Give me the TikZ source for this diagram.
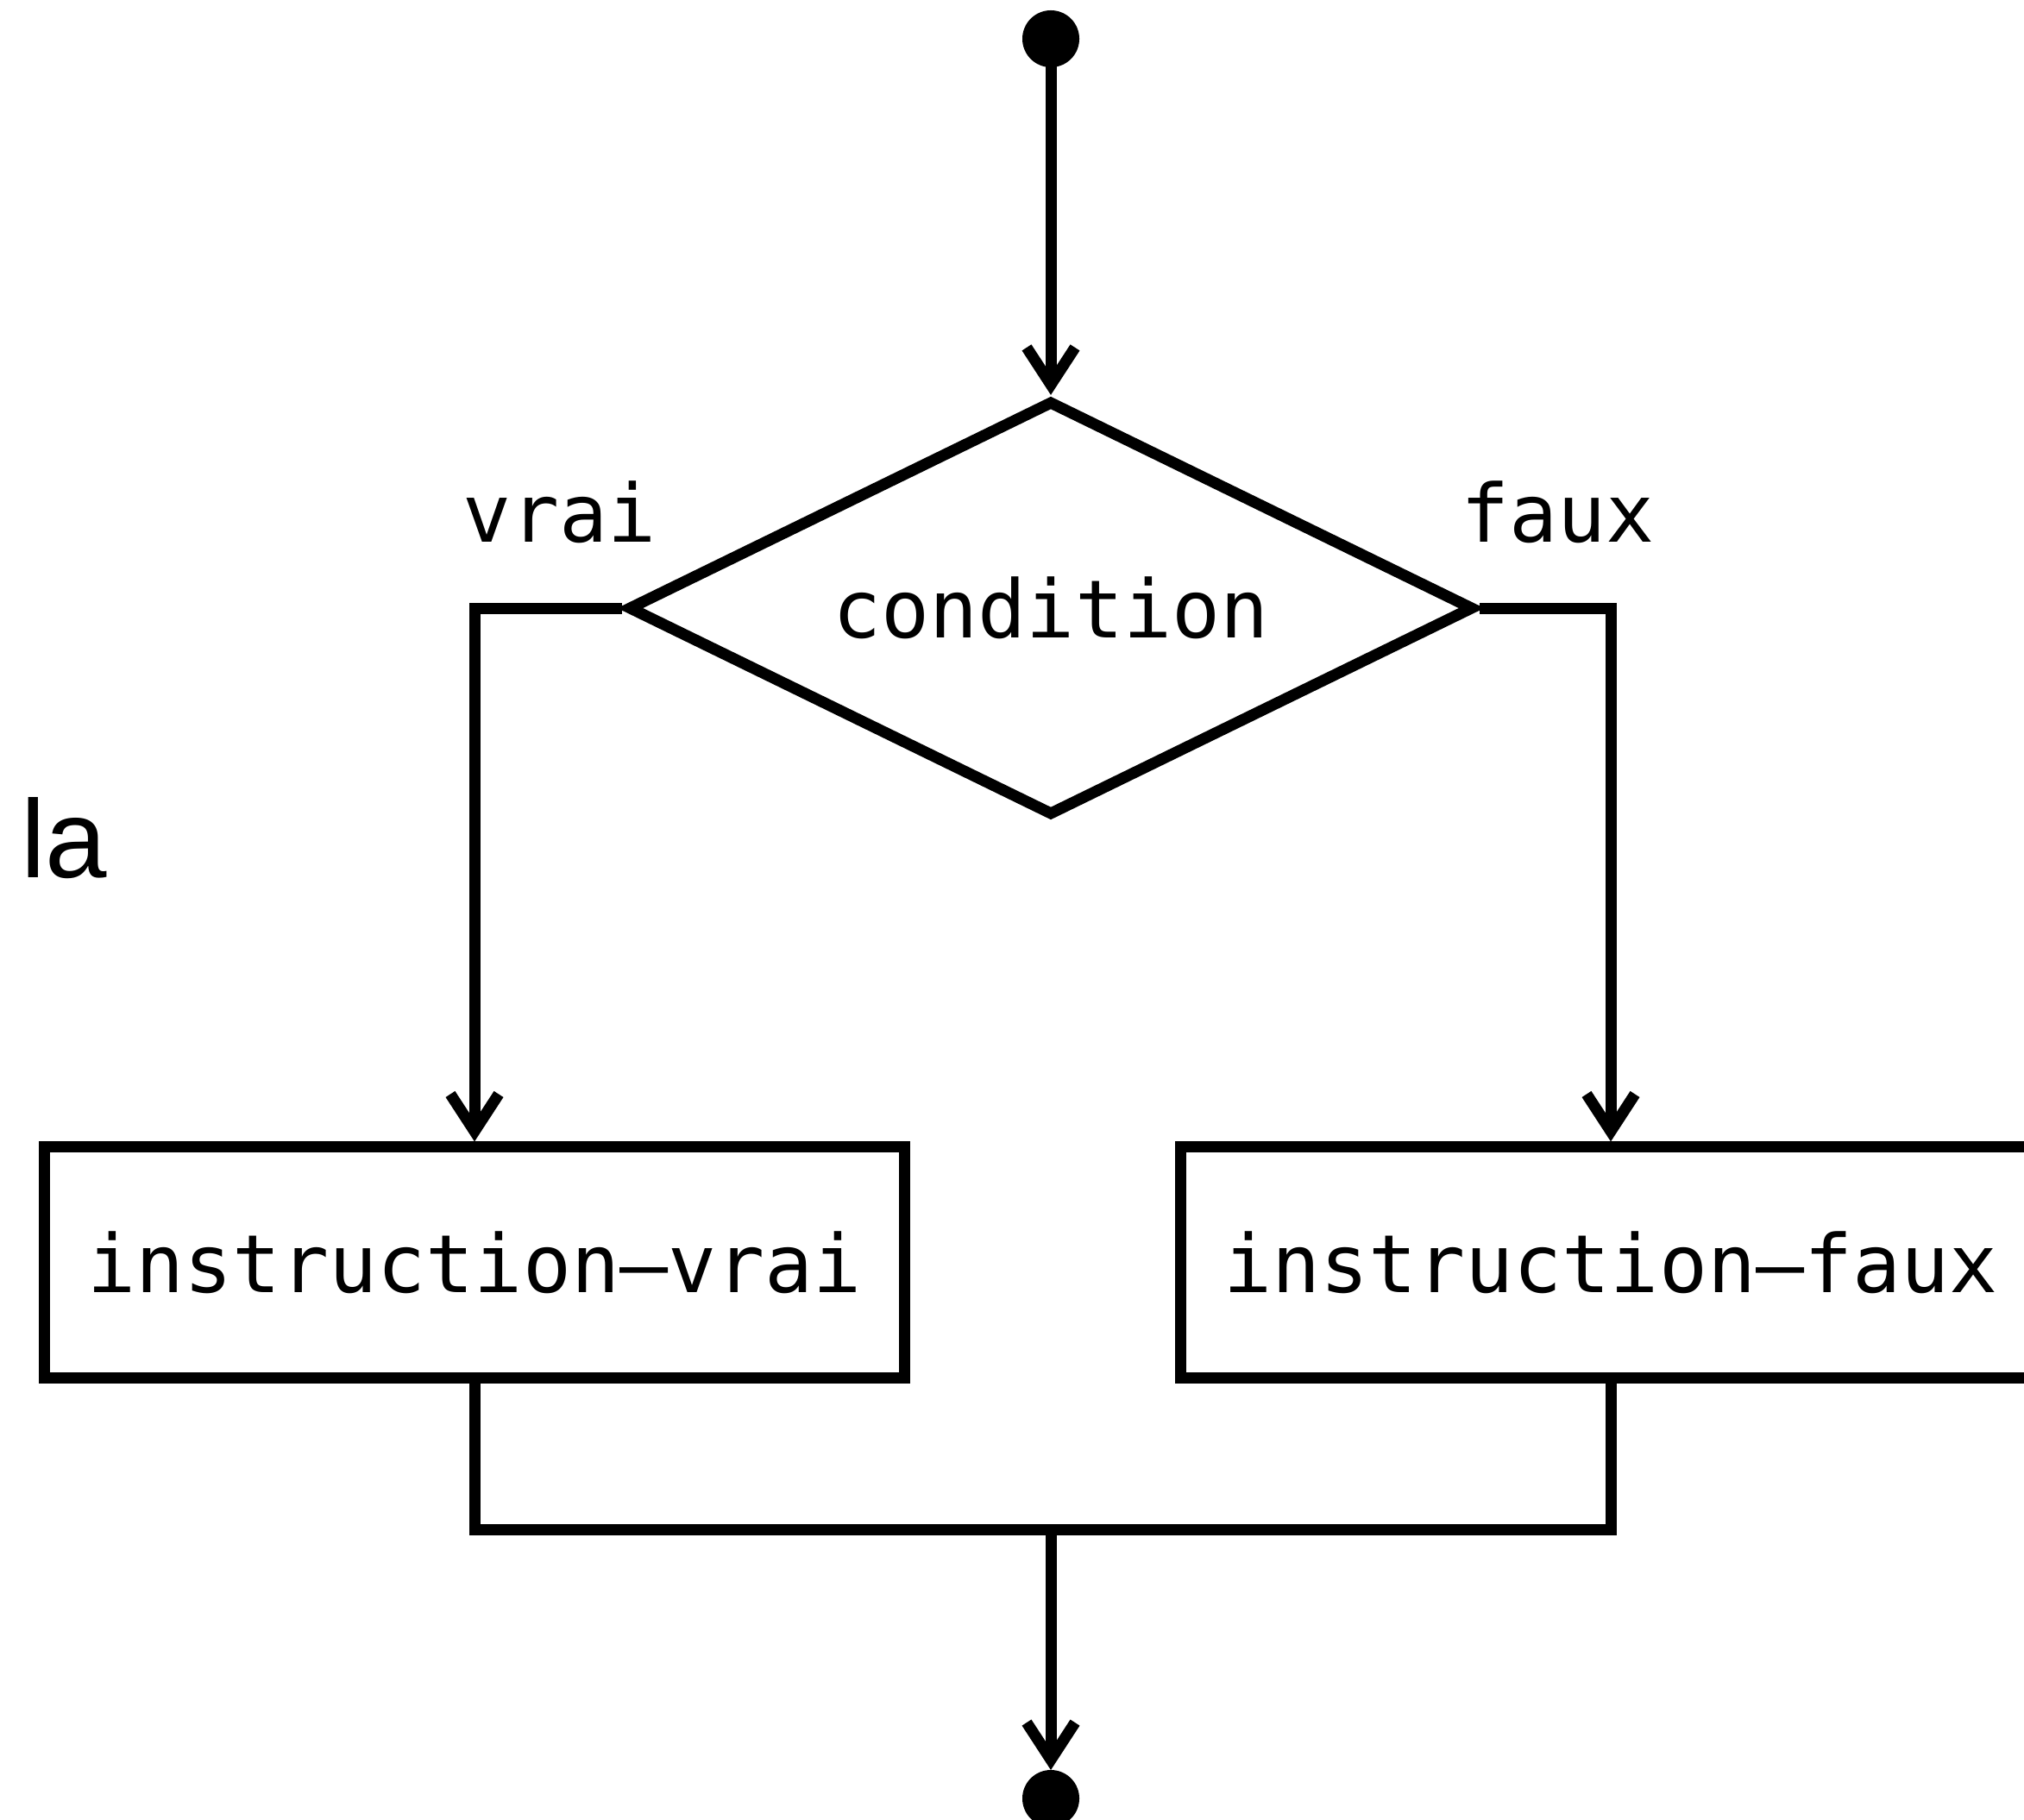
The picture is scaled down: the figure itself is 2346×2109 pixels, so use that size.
\documentclass[tikz,border=0pt]{standalone}
\usepackage{fontspec}
\usetikzlibrary{shapes.geometric,arrows.meta}
\newfontfamily\codefont{DejaVu Sans Mono}
\newfontfamily\labelfont{Liberation Sans}
\begin{document}
\begin{tikzpicture}[x=0.01cm,y=-0.01cm, line width=0.13cm,
  flow/.style={draw, -{Straight Barb[length=0.43cm,width=0.56cm]}},
  wire/.style={draw},
  dot/.style={circle, fill=black, draw=none, inner sep=0pt, outer sep=0pt,
    minimum size=0.66cm},
  code/.style={font=\codefont\fontsize{26.5pt}{30pt}\selectfont},
  testbox/.style={diamond, aspect=2.07, draw, inner sep=0pt,
    minimum width=9.8cm, minimum height=4.81cm, code},
  instrbox/.style={rectangle, draw, inner sep=0pt,
    minimum width=9.96cm, minimum height=2.67cm, code},
  tag/.style={code, inner sep=0pt, anchor=base west}]
  \useasboundingbox (0,0) rectangle (2346,2109);
  \clip (0,0) rectangle (2346,2109);

  % start and end points
  \node[dot] (start) at (1218,45) {};
  \node[dot] (stop) at (1218,2085) {};

  % test
  \node[testbox] (cond) at (1218,705) {condition};
  \node[tag] (vrai) at (530,628) {vrai};
  \node[tag] (faux) at (1687,628) {faux};

  % branches
  \node[instrbox] (itrue) at (550,1463.5) {instruction–vrai};
  \node[instrbox] (ifalse) at (1867,1463.5) {instruction–faux};

  % side label
  \node[inner sep=0pt, anchor=base west,
    font=\labelfont\fontsize{36.5pt}{40pt}\selectfont] (la) at (18,1017) {la};

  % connectors
  \coordinate (join) at (1218,1773);
  \path[flow] (start.center) -- (cond.north);
  \path[flow] (cond.west) -| (itrue.north);
  \path[flow] (cond.east) -| (ifalse.north);
  \path[wire] (itrue.south) |- (join) -| (ifalse.south);
  \path[flow] (join) -- (stop.north);
\end{tikzpicture}
\end{document}
